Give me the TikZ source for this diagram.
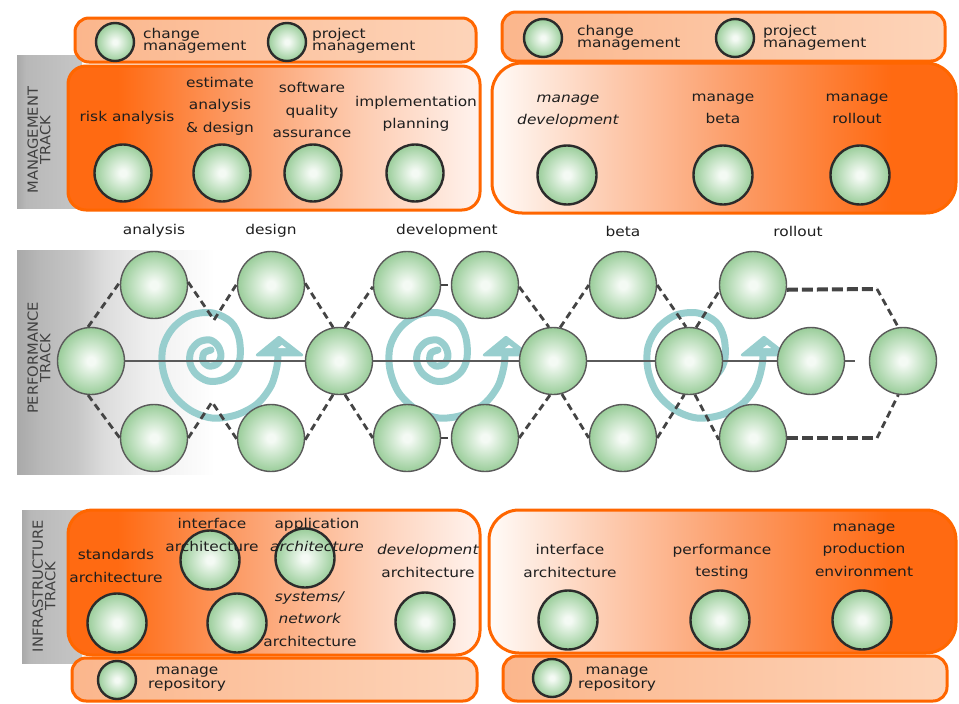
\documentclass[tikz,border=0pt]{standalone}
\usepackage{fontspec}
\setmainfont{DejaVu Sans}[FakeStretch=1.14, ItalicFont={DejaVu Sans Oblique}]
\newfontfamily\trackfont{DejaVu Sans}[FakeStretch=1.05]

% palette
\definecolor{ink}{HTML}{1E1E1E}
\definecolor{brandor}{HTML}{FF6600}
\definecolor{orA}{HTML}{FF6A12}
\definecolor{orB}{HTML}{FC9A64}
\definecolor{orC}{HTML}{FDCAAE}
\definecolor{orD}{HTML}{FFF3EE}
\definecolor{orW}{HTML}{FFFBF8}
\definecolor{pillL}{HTML}{FBB68C}
\definecolor{pillR}{HTML}{FDD4B9}
\definecolor{ballc}{HTML}{F4FAF4}
\definecolor{ballm}{HTML}{CBE6CB}
\definecolor{balle}{HTML}{9ACD9A}
\definecolor{mline}{HTML}{2B2B2B}
\definecolor{pline}{HTML}{5A5A5A}
\definecolor{dashc}{HTML}{444444}
\definecolor{spiralc}{HTML}{98CECE}
\definecolor{grA}{HTML}{A9A9A9}
\definecolor{grB}{HTML}{B8B8B8}
\definecolor{grC}{HTML}{C6C6C6}
\definecolor{grD}{HTML}{DCDCDC}
\definecolor{grE}{HTML}{EFEFEF}

% shadings
\pgfdeclareradialshading{ball}{\pgfpoint{0bp}{0bp}}{color(0bp)=(ballc); color(3bp)=(ballc); color(13bp)=(ballm); color(25bp)=(balle); color(50bp)=(balle)}
\pgfdeclarehorizontalshading{orfade}{100bp}{color(0bp)=(orA); color(25bp)=(orA); color(31bp)=(orA); color(45bp)=(orB); color(60bp)=(orC); color(75bp)=(orD); color(100bp)=(orD)}
\pgfdeclarehorizontalshading{orrise}{100bp}{color(0bp)=(orW); color(25bp)=(orW); color(38bp)=(orC); color(52bp)=(orB); color(68bp)=(orA); color(75bp)=(orA); color(100bp)=(orA)}
\pgfdeclarehorizontalshading{pillfill}{100bp}{color(0bp)=(pillL); color(25bp)=(pillL); color(75bp)=(pillR); color(100bp)=(pillR)}
\pgfdeclarehorizontalshading{tabfill}{100bp}{color(0bp)=(grA); color(25bp)=(grA); color(32bp)=(grB); color(75bp)=(grC); color(100bp)=(grC)}
\pgfdeclarehorizontalshading{bandfill}{100bp}{color(0bp)=(grA); color(25bp)=(grA); color(31bp)=(grB); color(40bp)=(grC); color(47bp)=(grD); color(58bp)=(grE); color(75bp)=(white); color(100bp)=(white)}

\newcommand\lblfont{\fontsize{13.5pt}{22.5pt}\selectfont}
\newcommand\pillfont{\fontsize{13.5pt}{12.5pt}\selectfont}
\newcommand\trkfont{\trackfont\fontsize{14pt}{12.5pt}\selectfont}

\tikzset{
  bigbox/.style={shade, draw=brandor, line width=3pt},
  pillbox/.style={shade, shading=pillfill, draw=brandor, line width=3pt, rounded corners=14pt},
  mball/.style={circle, inner sep=0pt, shade, shading=ball, draw=mline, line width=2.4pt, minimum size=57pt},
  sball/.style={mball, minimum size=38pt},
  pball/.style={circle, inner sep=0pt, shade, shading=ball, draw=pline, line width=1.4pt, minimum size=67pt},
  lbl/.style={align=center, inner sep=0pt, text=ink, font=\lblfont},
  plbl/.style={align=left, inner sep=0pt, text=ink, font=\pillfont, anchor=west},
  clbl/.style={align=center, inner sep=0pt, text=ink, font=\pillfont},
  trk/.style={align=center, inner sep=0pt, text=ink!85, font=\trkfont, rotate=90},
  hexdash/.style={draw=dashc, line width=2.8pt, dash pattern=on 7pt off 4.5pt},
  hexdashw/.style={draw=dashc, line width=4pt, dash pattern=on 11pt off 4pt},
  midline/.style={draw=pline, line width=1.4pt},
  spiralline/.style={draw=spiralc, line width=7pt, line cap=round, line join=round},
}

\begin{document}
\begin{tikzpicture}[x=1pt, y=-1pt]
\useasboundingbox (0,0) rectangle (959,704);

% ---------------- management track ----------------
\shade[shading=tabfill] (17,55) rectangle (82,208);
\path[pillbox] (75,18) rectangle (476,62);
\path[bigbox, shading=orfade, rounded corners=18pt] (68,66) rectangle (480,210);
\path[pillbox] (502,12) rectangle (945,61);
\path[bigbox, shading=orrise, rounded corners=30pt] (492,63) rectangle (956,213);
\node[trk] (mtrk) at (39,140) {MANAGEMENT\\TRACK};

\node[sball] (ms1) at (115,42) {};
\node[sball] (ms2) at (287,42) {};
\node[plbl] (lp1) at (143,41) {change\\management};
\node[plbl] (lp2) at (312,41) {project\\management};
\node[sball] (ms3) at (543,38) {};
\node[sball] (ms4) at (735,38) {};
\node[plbl] (rp1) at (577,38) {change\\management};
\node[plbl] (rp2) at (763,38) {project\\management};

\node[mball] (ml1) at (123,173) {};
\node[mball] (ml2) at (222,173) {};
\node[mball] (ml3) at (313,173) {};
\node[mball] (ml4) at (415,173) {};
\node[lbl] (lr1) at (127,118) {risk analysis};
\node[lbl] (lr2) at (220,106) {estimate\\analysis\\\& design};
\node[lbl] (lr3) at (312,110) {software\\quality\\assurance};
\node[lbl] (lr4) at (416,114) {implementation\\planning};

\node[mball, minimum size=59pt] (mr1) at (567,175) {};
\node[mball, minimum size=59pt] (mr2) at (723,175) {};
\node[mball, minimum size=59pt] (mr3) at (860,175) {};
\node[lbl, font=\lblfont\itshape] (rr1) at (568,111) {manage\\development};
\node[lbl] (rr2) at (723,109) {manage\\beta};
\node[lbl] (rr3) at (857,109) {manage\\rollout};

% ---------------- performance track ----------------
\shade[shading=bandfill] (17,250) rectangle (215,474);
\node[trk] (ptrk) at (39,358) {PERFORMANCE\\TRACK};

\node[lbl] (ph1) at (154,231) {analysis};
\node[lbl] (ph2) at (271,231) {design};
\node[lbl] (ph3) at (447,231) {development};
\node[lbl] (ph4) at (623,231) {beta};
\node[lbl] (ph5) at (798,231) {rollout};

% iteration spirals, each ending in an upward arrowhead
\foreach \dx in {0,227,485} {
  \begin{scope}[xshift=\dx pt]
    \draw[spiralline] plot[smooth, tension=0.55] coordinates {
      (211,350) (204,353) (203,361) (209,366) (217,364) (221,356) (218,346)
      (210,340) (199,342) (191,351) (190,363) (196,374) (208,381) (222,380)
      (234,372) (240,358) (239,338) (231,322) (213,313) (191,315) (173,328)
      (163,347) (163,370) (172,393) (190,410) (212,418) (236,415) (257,404)
      (271,386) (277,366) (278,352)};
    \filldraw[spiralc, line width=2.5pt, line join=round] (257,355) -- (279,337) -- (302,355) -- cycle;
    \fill[white] (278,348) -- (282,345) -- (286,348) -- cycle;
  \end{scope}
}

\coordinate (lineend) at (855,361);
\coordinate (v1) at (214,320);
\coordinate (v2) at (212,402);
\coordinate (c1) at (877,289);
\coordinate (c2) at (877,438);

% phase circles
\node[pball] (m1) at (91,361) {};
\node[pball] (t1) at (154,285) {};
\node[pball] (b1) at (154,438) {};
\node[pball] (t2) at (271,285) {};
\node[pball] (b2) at (271,438) {};
\node[pball] (m2) at (339,361) {};
\node[pball] (t3) at (407,285) {};
\node[pball] (b3) at (407,438) {};
\node[pball] (t4) at (485,285) {};
\node[pball] (b4) at (485,438) {};
\node[pball] (m3) at (553,361) {};
\node[pball] (t5) at (623,285) {};
\node[pball] (b5) at (623,438) {};
\node[pball] (m4) at (689,361) {};
\node[pball] (t6) at (753,285) {};
\node[pball] (b6) at (753,438) {};
\node[pball] (m5) at (811,361) {};
\node[pball] (m6) at (903,361) {};

% time line and hexagon connectors (drawn from circle borders)
\draw[midline] (m1.east) -- (m2.west);
\draw[midline] (m2.east) -- (m3.west);
\draw[midline] (m3.east) -- (m4.west);
\draw[midline] (m4.east) -- (m5.west);
\draw[midline] (m5.east) -- (lineend);

\draw[hexdash] (m1.95) -- (t1.175);
\draw[hexdash] (t1.5) -- (v1) -- (t2.178);
\draw[hexdash] (t2.3) -- (m2.100);
\draw[hexdash] (m2.80) -- (t3.183);
\draw[hexdash] (t3.east) -- (t4.west);
\draw[hexdash] (t4.357) -- (m3.97);
\draw[hexdash] (m3.78) -- (t5.180);
\draw[hexdash] (t5.0) -- (m4.95);
\draw[hexdash] (m4.78) -- (t6.190);
\draw[hexdashw] (t6.352) -- (c1);
\draw[hexdash] (c1) -- (m6.98);

\draw[hexdash] (m1.265) -- (b1.180);
\draw[hexdash] (b1.0) -- (v2) -- (b2.182);
\draw[hexdash] (b2.357) -- (m2.260);
\draw[hexdash] (m2.280) -- (b3.180);
\draw[hexdash] (b3.east) -- (b4.west);
\draw[hexdash] (b4.0) -- (m3.265);
\draw[hexdash] (m3.285) -- (b5.180);
\draw[hexdash] (b5.0) -- (m4.262);
\draw[hexdash] (m4.280) -- (b6.183);
\draw[hexdashw] (b6.0) -- (c2);
\draw[hexdash] (c2) -- (m6.262);

% ---------------- infrastructure track ----------------
\shade[shading=tabfill] (22,510) rectangle (82,663);
\path[bigbox, shading=orfade, rounded corners=24pt] (68,510) rectangle (480,655);
\path[pillbox] (72,658) rectangle (477,701);
\path[bigbox, shading=orrise, rounded corners=30pt] (489,510) rectangle (956,653);
\path[pillbox] (503,656) rectangle (947,701);
\node[trk] (itrk) at (44,586) {INFRASTRUCTURE\\TRACK};

\node[mball, minimum size=59pt] (il1) at (117,623) {};
\node[mball, minimum size=59pt] (il2) at (210,560) {};
\node[mball, minimum size=59pt] (il3) at (305,558) {};
\node[mball, minimum size=59pt] (il4) at (237,623) {};
\node[mball, minimum size=59pt] (il5) at (425,622) {};
\node[lbl] (ia1) at (116,566) {standards\\architecture};
\node[lbl] (ia2) at (212,535) {interface\\architecture};
\node[lbl] (ia3) at (317,535) {application\\\textit{architecture}};
\node[lbl] (ia4) at (428,561) {\textit{development}\\architecture};
\node[lbl] (ia5) at (310,619) {\textit{systems/}\\\textit{network}\\architecture};
\node[sball] (ip1) at (117,680) {};
\node[clbl] (ipl1) at (187,679) {manage\\repository};

\node[mball, minimum size=59pt] (ir1) at (568,620) {};
\node[mball, minimum size=59pt] (ir2) at (720,620) {};
\node[mball, minimum size=59pt] (ir3) at (862,620) {};
\node[lbl] (ib1) at (570,561) {interface\\architecture};
\node[lbl] (ib2) at (722,562) {performance\\testing};
\node[lbl] (ib3) at (864,550) {manage\\production\\environment};
\node[sball] (ip2) at (552,678) {};
\node[clbl] (ipl2) at (617,679) {manage\\repository};
\end{tikzpicture}
\end{document}
